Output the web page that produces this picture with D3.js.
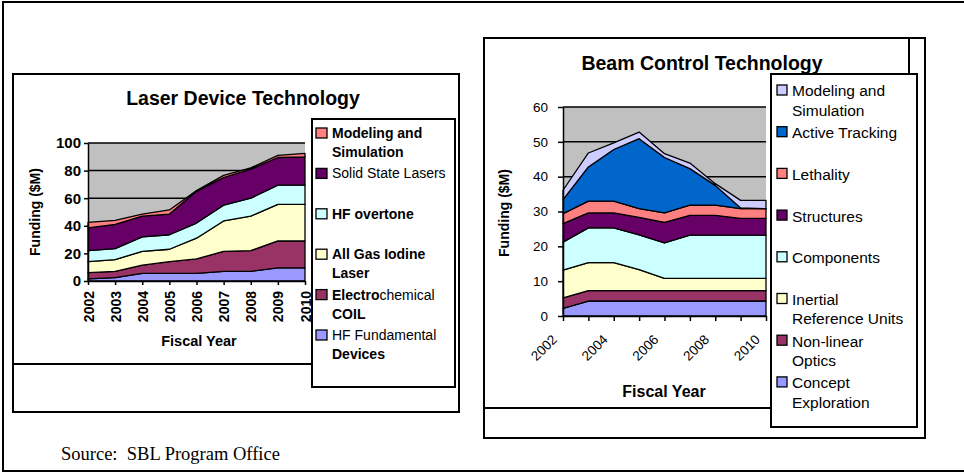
<!DOCTYPE html>
<meta charset="utf-8">
<head>
<script src="https://d3js.org/d3.v7.min.js"></script>
<style>
  body { margin: 0; background: #fff; }
  text { font-family: "Liberation Sans", Arial, sans-serif; fill: #000; }
  .source { font-family: "Liberation Serif", "Times New Roman", serif; white-space: pre; }
  .frame { fill: none; stroke: #000; stroke-width: 2; }
</style>
</head>
<body>
<svg id="slide" width="964" height="473"></svg>
<script>

var years = [2002, 2003, 2004, 2005, 2006, 2007, 2008, 2009, 2010];

// Laser Device Technology ($M), stack order bottom -> top
var laserKeys = ["HF Fundamental Devices", "Electrochemical COIL", "All Gas Iodine Laser",
                 "HF overtone", "Solid State Lasers", "Modeling and Simulation"];
var hfFundamental  = [1.5, 2.5, 5.5, 5.5, 5.5, 7, 7, 9.5, 9.5];
var electroCoil    = [4.5, 4.5, 6, 8.5, 10.5, 14.5, 15, 19.5, 19.5];
var allGasIodine   = [8, 8.5, 10, 9, 15, 22, 25, 26.5, 26.5];
var hfOvertone     = [8, 8, 10.5, 10.5, 11, 11.5, 13, 14, 14];
var solidState     = [16.5, 17.5, 15, 15, 23, 20, 21, 20, 20.5];
var laserModeling  = [4, 3, 1.5, 3, 0.5, 1.5, 1, 1.5, 2.5];
var laserTicks = [0, 20, 40, 60, 80, 100];
var laserLegend = [["Modeling and", "Simulation"], ["Solid State Lasers"], ["HF overtone"],
                   ["All Gas Iodine", "Laser"], ["Electrochemical", "COIL"], ["HF Fundamental", "Devices"]];

// Beam Control Technology ($M), stack order bottom -> top
var beamKeys = ["Concept Exploration", "Non-linear Optics", "Inertial Reference Units", "Components",
                "Structures", "Lethality", "Active Tracking", "Modeling and Simulation"];
var conceptExpl    = [2.2, 4.3, 4.3, 4.3, 4.3, 4.3, 4.3, 4.3, 4.3];
var nonlinOptics   = [3, 3, 3, 3, 3, 3, 3, 3, 3];
var inertialRef    = [8, 8, 8, 6, 3.5, 3.5, 3.5, 3.5, 3.5];
var components     = [8, 10, 10, 10, 10.2, 12.4, 12.4, 12.4, 12.4];
var structures     = [5.3, 4.3, 4.3, 5, 5.9, 5.7, 5.7, 4.8, 4.8];
var lethality      = [2.9, 3.4, 3.4, 2.5, 2.7, 2.9, 2.9, 2.8, 2.8];
var activeTracking = [4, 9.8, 14.8, 20.1, 15.9, 10.5, 5.7, 0.2, 0];
var beamModeling   = [2.7, 4, 1.9, 1.9, 1.1, 1.6, 0.5, 2.2, 2.4];
var beamTicks = [0, 10, 20, 30, 40, 50, 60];
var beamLegend = [["Modeling and", "Simulation"], ["Active Tracking"], ["Lethality"], ["Structures"],
                  ["Components"], ["Inertial", "Reference Units"], ["Non-linear", "Optics"],
                  ["Concept", "Exploration"]];

var laserColors = ["#9999FF", "#993366", "#FFFFCC", "#CCFFFF", "#660066", "#FF8080"];
var beamColors  = ["#9999FF", "#993366", "#FFFFCC", "#CCFFFF", "#660066", "#FF8080", "#0066CC", "#CCCCFF"];

function makeRows(keys, cols) {
  return years.map(function(yr, i) {
    var r = { year: yr };
    keys.forEach(function(k, j) { r[k] = cols[j][i]; });
    return r;
  });
}
var laserRows = makeRows(laserKeys, [hfFundamental, electroCoil, allGasIodine, hfOvertone, solidState, laserModeling]);
var beamRows  = makeRows(beamKeys, [conceptExpl, nonlinOptics, inertialRef, components, structures, lethality, activeTracking, beamModeling]);

var svg = d3.select("#slide");
svg.append("rect").attr("width", 964).attr("height", 473).attr("fill", "#fff");

// outer slide frame (right edge runs off the picture)
svg.append("rect").attr("class", "frame").attr("x", 3).attr("y", 2).attr("width", 1000).attr("height", 469).attr("stroke-width", 2.5);

// ---------- Laser Device Technology ----------
svg.append("rect").attr("class", "frame").attr("x", 13).attr("y", 74).attr("width", 446).attr("height", 338);
svg.append("line").attr("x1", 13).attr("x2", 312).attr("y1", 364).attr("y2", 364).attr("stroke", "#000").attr("stroke-width", 2);

var lx = d3.scalePoint().domain(years).range([88, 305]);
var ly = d3.scaleLinear().domain([0, 100]).range([281, 143]);

drawPlot(svg, laserRows, laserKeys, laserColors, lx, ly, laserTicks);

svg.append("g").attr("transform", "translate(88,0)")
  .call(d3.axisLeft(ly).tickValues(laserTicks).tickSize(4).tickPadding(3).tickSizeOuter(0))
  .call(styleAxis)
  .selectAll("text").style("font-size", "15px").style("font-weight", "bold");

svg.append("g").attr("transform", "translate(0,281)")
  .call(d3.axisBottom(lx).tickSize(4).tickSizeOuter(0))
  .call(styleAxis)
  .selectAll("text")
    .style("font-size", "14px").style("font-weight", "bold")
    .attr("text-anchor", "end").attr("transform", "rotate(-90)")
    .attr("x", -10).attr("y", 0).attr("dy", "0.36em");

svg.append("text").attr("x", 243).attr("y", 105).attr("text-anchor", "middle")
  .style("font-size", "19.5px").style("font-weight", "bold").text("Laser Device Technology");
svg.append("text").attr("x", 199).attr("y", 346).attr("text-anchor", "middle")
  .style("font-size", "14.5px").style("font-weight", "bold").text("Fiscal Year");
svg.append("text").attr("transform", "translate(40,212) rotate(-90)").attr("text-anchor", "middle")
  .style("font-size", "14px").style("font-weight", "bold").text("Funding ($M)");

// legend
svg.append("rect").attr("class", "frame").attr("x", 312).attr("y", 119).attr("width", 143).attr("height", 268);
// which lines look bold in the original (number = bold prefix length)
var laserLegendBold = [[true, true], [false], [true], [true, true], [7, true], [false, true]];
var laserLegendColors = laserColors.slice().reverse();
laserLegend.forEach(function(lines, i) {
  var y0 = 133 + i * 40.4;
  svg.append("rect").attr("x", 316).attr("y", y0 - 5).attr("width", 11).attr("height", 10)
    .attr("fill", laserLegendColors[i]).attr("stroke", "#000").attr("stroke-width", 1.3);
  lines.forEach(function(line, j) {
    var t = svg.append("text").attr("x", 332).attr("y", y0 + j * 19).attr("dy", "0.35em").style("font-size", "14px");
    var b = laserLegendBold[i][j];
    if (typeof b === "number") {
      t.append("tspan").style("font-weight", "bold").text(line.slice(0, b));
      t.append("tspan").text(line.slice(b));
    } else {
      t.style("font-weight", b ? "bold" : "normal").text(line);
    }
  });
});

// ---------- Beam Control Technology ----------
svg.append("rect").attr("class", "frame").attr("x", 484).attr("y", 38).attr("width", 441).attr("height", 400);
svg.append("line").attr("x1", 909).attr("x2", 909).attr("y1", 38).attr("y2", 74).attr("stroke", "#000").attr("stroke-width", 2);
svg.append("line").attr("x1", 484).attr("x2", 771).attr("y1", 408).attr("y2", 408).attr("stroke", "#000").attr("stroke-width", 2);

var bx = d3.scalePoint().domain(years).range([563, 766]);
var by = d3.scaleLinear().domain([0, 60]).range([316, 107]);

drawPlot(svg, beamRows, beamKeys, beamColors, bx, by, beamTicks);

svg.append("g").attr("transform", "translate(563,0)")
  .call(d3.axisLeft(by).tickValues(beamTicks).tickSize(5).tickPadding(10).tickSizeOuter(0))
  .call(styleAxis)
  .selectAll("text").style("font-size", "13.5px");

svg.append("g").attr("transform", "translate(0,316)")
  .call(d3.axisBottom(bx).tickSize(5).tickSizeOuter(0)
        .tickFormat(function(d) { return d % 2 === 0 ? d : ""; }))
  .call(styleAxis)
  .selectAll("text")
    .style("font-size", "13.5px")
    .attr("text-anchor", "end").attr("transform", "translate(-9,21) rotate(-45)")
    .attr("x", 0).attr("y", 0).attr("dy", "0.35em");

svg.append("text").attr("x", 702).attr("y", 70).attr("text-anchor", "middle")
  .style("font-size", "19.5px").style("font-weight", "bold").text("Beam Control Technology");
svg.append("text").attr("x", 664).attr("y", 397).attr("text-anchor", "middle")
  .style("font-size", "16px").style("font-weight", "bold").text("Fiscal Year");
svg.append("text").attr("transform", "translate(509,213) rotate(-90)").attr("text-anchor", "middle")
  .style("font-size", "14px").style("font-weight", "bold").text("Funding ($M)");

svg.append("rect").attr("class", "frame").attr("x", 771).attr("y", 74).attr("width", 146).attr("height", 353);
var beamLegendColors = beamColors.slice().reverse();
beamLegend.forEach(function(lines, i) {
  var y0 = 91 + i * 41.7;
  svg.append("rect").attr("x", 777).attr("y", y0 - 6).attr("width", 10).attr("height", 10)
    .attr("fill", beamLegendColors[i]).attr("stroke", "#000").attr("stroke-width", 1.3);
  lines.forEach(function(line, j) {
    svg.append("text").attr("x", 792).attr("y", y0 + j * 19.5).attr("dy", "0.35em")
      .style("font-size", "15.5px").text(line);
  });
});

svg.append("text").attr("class", "source").attr("x", 61).attr("y", 460)
  .style("font-size", "18.5px").text("Source:  SBL Program Office");

function drawPlot(parent, rows, keys, colors, x, y, ticks) {
  var g = parent.append("g");
  var x0 = x.range()[0], x1 = x.range()[1];
  g.append("rect").attr("x", x0).attr("y", y(y.domain()[1]))
    .attr("width", x1 - x0).attr("height", y(0) - y(y.domain()[1])).attr("fill", "#C0C0C0");
  g.selectAll("line.grid").data(ticks.slice(1)).enter().append("line")
    .attr("x1", x0).attr("x2", x1).attr("y1", function(d) { return y(d); }).attr("y2", function(d) { return y(d); })
    .attr("stroke", "#000").attr("stroke-width", 1.5);
  var layers = d3.stack().keys(keys)(rows);
  var area = d3.area()
    .x(function(d) { return x(d.data.year); })
    .y0(function(d) { return y(d[0]); })
    .y1(function(d) { return y(d[1]); });
  g.selectAll("path.layer").data(layers).enter().append("path")
    .attr("class", "layer")
    .attr("d", area)
    .attr("fill", function(d, i) { return colors[i]; })
    .attr("stroke", "#000").attr("stroke-width", 1.3).attr("stroke-linejoin", "round");
}

function styleAxis(sel) {
  sel.select(".domain").attr("stroke", "#000").attr("stroke-width", 1.5);
  sel.selectAll(".tick line").attr("stroke", "#000").attr("stroke-width", 1.5);
  sel.selectAll("text").attr("fill", "#000").style("font-family", "'Liberation Sans', Arial, sans-serif");
}

</script>
</body>
</html>
